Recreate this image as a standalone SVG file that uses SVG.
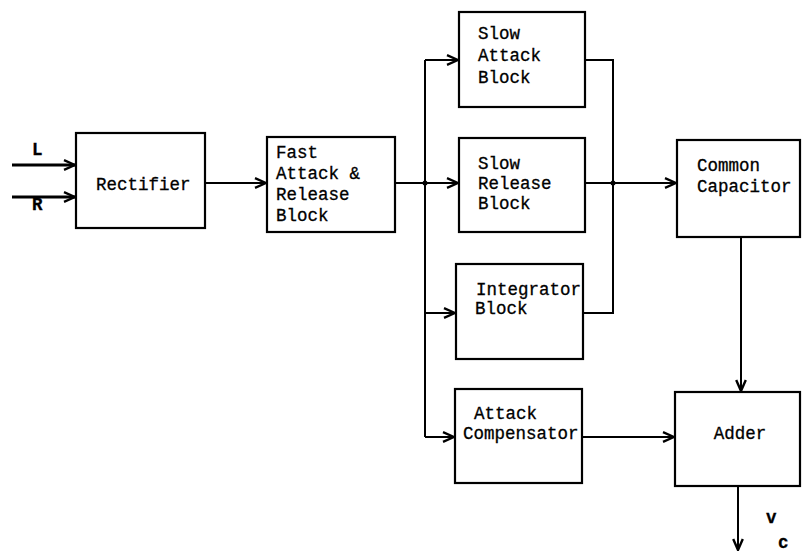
<svg xmlns="http://www.w3.org/2000/svg" width="802" height="552" viewBox="0 0 802 552">
<style>
.box{fill:#fff;stroke:#000;stroke-width:2.2}
.t{font-family:"Courier New","Liberation Mono",monospace;font-size:17.5px;fill:#000;stroke:#000;stroke-width:0.3}
.w{fill:none;stroke:#000;stroke-width:2}
.wt{fill:none;stroke:#000;stroke-width:3}
.dot{fill:#000}
</style>
<defs>
<marker id="arr" viewBox="0 0 13 12" refX="12" refY="6" markerWidth="13" markerHeight="12" orient="auto" markerUnits="userSpaceOnUse">
<path d="M1,1.2 L12,6 L1,10.8" fill="none" stroke="#000" stroke-width="2.4"/>
</marker>
</defs>
<rect width="802" height="552" fill="#fff"/>
<g id="connectors">
<path class="wt" d="M12,165 H75" marker-end="url(#arr)"/>
<path class="wt" d="M12,197 H75" marker-end="url(#arr)"/>
<path class="w" d="M205,183 H266" marker-end="url(#arr)"/>
<path class="w" d="M395,183 H425"/>
<path class="w" d="M425,60 V437"/>
<path class="w" d="M425,60 H458" marker-end="url(#arr)"/>
<path class="w" d="M425,183 H458" marker-end="url(#arr)"/>
<path class="w" d="M425,313 H455" marker-end="url(#arr)"/>
<path class="w" d="M425,437 H454" marker-end="url(#arr)"/>
<path class="w" d="M585,60 H613 V313 H583"/>
<path class="w" d="M585,183 H613"/>
<path class="w" d="M613,183 H676" marker-end="url(#arr)"/>
<path class="w" d="M741,237 V391" marker-end="url(#arr)"/>
<path class="w" d="M582,437 H674" marker-end="url(#arr)"/>
<path class="w" d="M738,486 V550" marker-end="url(#arr)"/>
<circle class="dot" cx="425" cy="183" r="2.5"/>
<circle class="dot" cx="613" cy="183" r="2.5"/>
</g>
<g id="inputs">
<text class="t" x="32" y="155" font-weight="bold">L</text>
<text class="t" x="32" y="210" font-weight="bold">R</text>
</g>
<g id="rectifier">
<rect class="box" x="76" y="133" width="129" height="95"/>
<text class="t" x="96" y="190">Rectifier</text>
</g>
<g id="fast-attack">
<rect class="box" x="267" y="137" width="128" height="95"/>
<text class="t" x="276" y="158">Fast</text>
<text class="t" x="276" y="179">Attack &amp;</text>
<text class="t" x="276" y="200">Release</text>
<text class="t" x="276" y="221">Block</text>
</g>
<g id="slow-attack">
<rect class="box" x="459" y="12" width="126" height="95"/>
<text class="t" x="478" y="39">Slow</text>
<text class="t" x="478" y="61">Attack</text>
<text class="t" x="478" y="83">Block</text>
</g>
<g id="slow-release">
<rect class="box" x="459" y="138" width="126" height="94"/>
<text class="t" x="478" y="169">Slow</text>
<text class="t" x="478" y="189">Release</text>
<text class="t" x="478" y="209">Block</text>
</g>
<g id="integrator">
<rect class="box" x="456" y="264" width="127" height="95"/>
<text class="t" x="476" y="295">Integrator</text>
<text class="t" x="475" y="314">Block</text>
</g>
<g id="attack-compensator">
<rect class="box" x="455" y="389" width="127" height="94"/>
<text class="t" x="474" y="419">Attack</text>
<text class="t" x="463" y="439">Compensator</text>
</g>
<g id="common-capacitor">
<rect class="box" x="677" y="140" width="123" height="97"/>
<text class="t" x="697" y="171">Common</text>
<text class="t" x="697" y="192">Capacitor</text>
</g>
<g id="adder">
<rect class="box" x="675" y="392" width="125" height="94"/>
<text class="t" x="740" y="439" text-anchor="middle">Adder</text>
</g>
<g id="output">
<text class="t" x="766" y="523" font-weight="bold" font-size="15">v</text>
<text class="t" x="778" y="548" font-weight="bold" font-size="15">c</text>
</g>
</svg>
